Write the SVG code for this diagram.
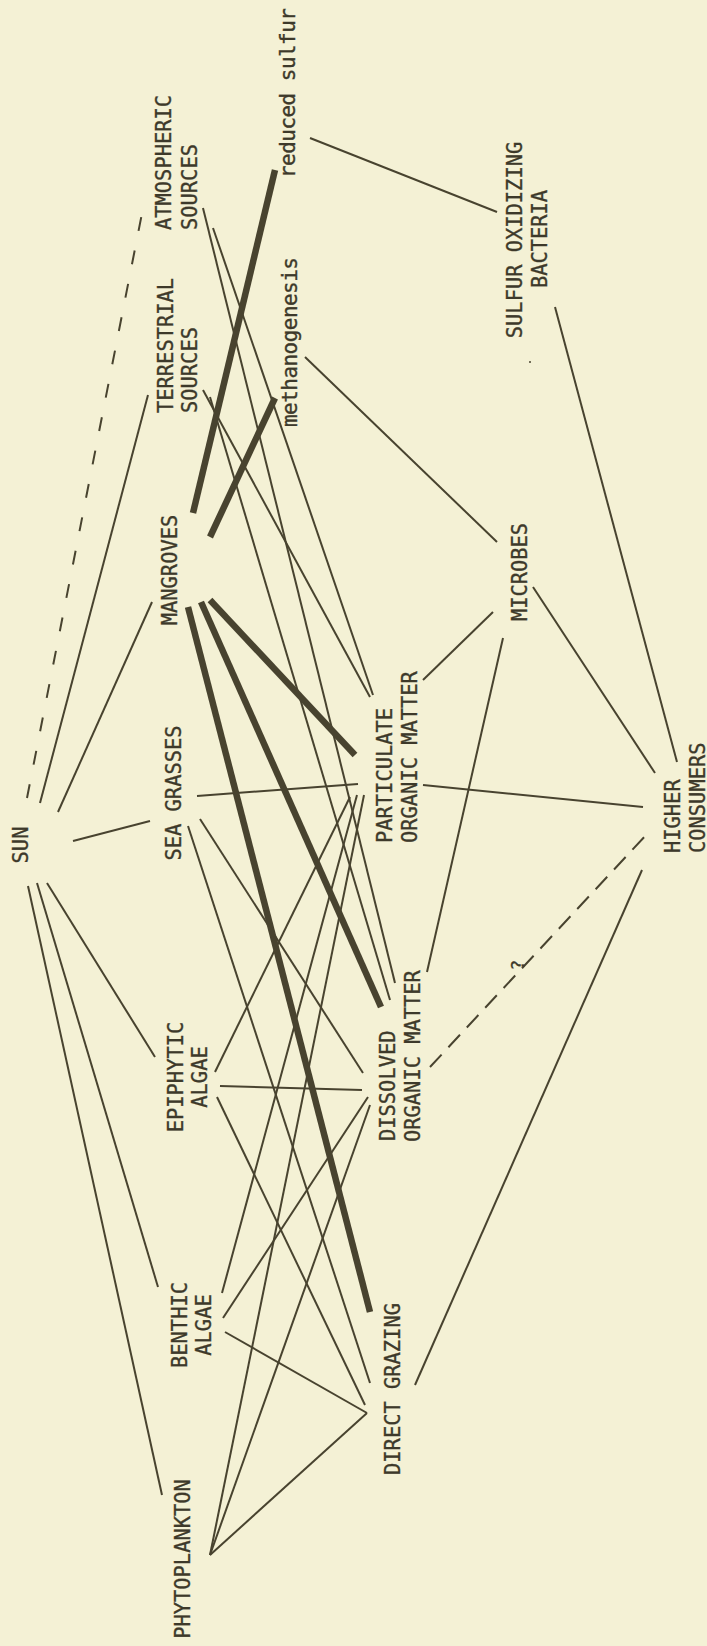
<svg xmlns="http://www.w3.org/2000/svg" width="707" height="1646" viewBox="0 0 707 1646">
<style>
.t{font-family:"DejaVu Sans Mono","Liberation Mono",monospace;font-size:20.4px;fill:#3d392a;stroke:#3d392a;stroke-width:0.35}
.m{text-anchor:middle}
.s{text-anchor:start}
.lc{font-size:21px}
.ln{stroke:#48432f;stroke-width:2;fill:none;stroke-linecap:butt}
.th{stroke:#48432f;stroke-width:6.5;fill:none;stroke-linecap:butt}
.da{stroke:#48432f;stroke-width:2;fill:none;stroke-dasharray:14 20}
.db{stroke:#48432f;stroke-width:2;fill:none;stroke-dasharray:17 10}
</style>
<rect x="0" y="0" width="707" height="1646" fill="#f4f1d5"/>
<g id="connectors">
<path class="ln" d="M40,803 L148,395"/>
<path class="ln" d="M58,812 L152,602"/>
<path class="ln" d="M73,841 L150,821"/>
<path class="ln" d="M47,883 L155,1057"/>
<path class="ln" d="M37,883 L158,1287"/>
<path class="ln" d="M28,886 L162,1495"/>
<path class="ln" d="M203,208 L395,983"/>
<path class="ln" d="M213,228 L373,695"/>
<path class="ln" d="M203,390 L370,697"/>
<path class="ln" d="M210,397 L390,1000"/>
<path class="ln" d="M197,796 L358,784"/>
<path class="ln" d="M200,819 L363,1073"/>
<path class="ln" d="M188,826 L370,1383"/>
<path class="ln" d="M215,1072 L350,797"/>
<path class="ln" d="M220,1086 L362,1090"/>
<path class="ln" d="M217,1097 L365,1405"/>
<path class="ln" d="M222,1293 L357,795"/>
<path class="ln" d="M223,1318 L368,1097"/>
<path class="ln" d="M225,1332 L367,1413"/>
<path class="ln" d="M210,1555 L364,795"/>
<path class="ln" d="M210,1555 L370,1105"/>
<path class="ln" d="M210,1555 L367,1413"/>
<path class="ln" d="M310,138 L497,212"/>
<path class="ln" d="M305,357 L497,542"/>
<path class="ln" d="M423,680 L493,612"/>
<path class="ln" d="M423,785 L643,807"/>
<path class="ln" d="M427,972 L503,638"/>
<path class="ln" d="M533,587 L655,773"/>
<path class="ln" d="M555,307 L677,762"/>
<path class="ln" d="M415,1385 L642,870"/>
<path class="da" d="M27,798 L145,198"/>
<path class="db" d="M430,1067 L648,833"/>
<path class="th" d="M193,513 L275,170"/>
<path class="th" d="M210,537 L275,398"/>
<path class="th" d="M210,600 L355,755"/>
<path class="th" d="M201,602 L381,1007"/>
<path class="th" d="M188,607 L370,1312"/>
<text class="t m" transform="translate(524,965) rotate(-90)" style="font-size:18px">?</text>
<circle cx="530" cy="362" r="1" fill="#48432f"/>
</g>
<g id="sun"><text class="t m" transform="translate(28,845) rotate(-90)">SUN</text></g>
<g id="atmospheric-sources"><text class="t s" transform="translate(171,230) rotate(-90)">ATMOSPHERIC</text><text class="t s" transform="translate(197,230) rotate(-90)">SOURCES</text></g>
<g id="terrestrial-sources"><text class="t s" transform="translate(173,413) rotate(-90)">TERRESTRIAL</text><text class="t s" transform="translate(197,413) rotate(-90)">SOURCES</text></g>
<g id="mangroves"><text class="t m" transform="translate(177,570) rotate(-90)">MANGROVES</text></g>
<g id="sea-grasses"><text class="t m" transform="translate(181,793) rotate(-90)">SEA GRASSES</text></g>
<g id="epiphytic-algae"><text class="t m" transform="translate(183,1077) rotate(-90)">EPIPHYTIC</text><text class="t m" transform="translate(207,1077) rotate(-90)">ALGAE</text></g>
<g id="benthic-algae"><text class="t m" transform="translate(187,1325) rotate(-90)">BENTHIC</text><text class="t m" transform="translate(211,1325) rotate(-90)">ALGAE</text></g>
<g id="phytoplankton"><text class="t m" transform="translate(190,1559) rotate(-90)">PHYTOPLANKTON</text></g>
<g id="reduced-sulfur"><text class="t m lc" transform="translate(295,93) rotate(-90)" textLength="170" lengthAdjust="spacing">reduced sulfur</text></g>
<g id="methanogenesis"><text class="t m lc" transform="translate(297,342) rotate(-90)" textLength="170" lengthAdjust="spacing">methanogenesis</text></g>
<g id="particulate-organic-matter"><text class="t s" transform="translate(392,843) rotate(-90)">PARTICULATE</text><text class="t s" transform="translate(417,843) rotate(-90)">ORGANIC MATTER</text></g>
<g id="dissolved-organic-matter"><text class="t s" transform="translate(395,1141) rotate(-90)">DISSOLVED</text><text class="t s" transform="translate(420,1142) rotate(-90)">ORGANIC MATTER</text></g>
<g id="direct-grazing"><text class="t m" transform="translate(400,1389) rotate(-90)">DIRECT GRAZING</text></g>
<g id="microbes"><text class="t m" transform="translate(527,572) rotate(-90)">MICROBES</text></g>
<g id="sulfur-oxidizing-bacteria"><text class="t m" transform="translate(522,240) rotate(-90)">SULFUR OXIDIZING</text><text class="t m" transform="translate(547,239) rotate(-90)">BACTERIA</text></g>
<g id="higher-consumers"><text class="t s" transform="translate(680,853) rotate(-90)">HIGHER</text><text class="t s" transform="translate(705,853) rotate(-90)">CONSUMERS</text></g>
</svg>
